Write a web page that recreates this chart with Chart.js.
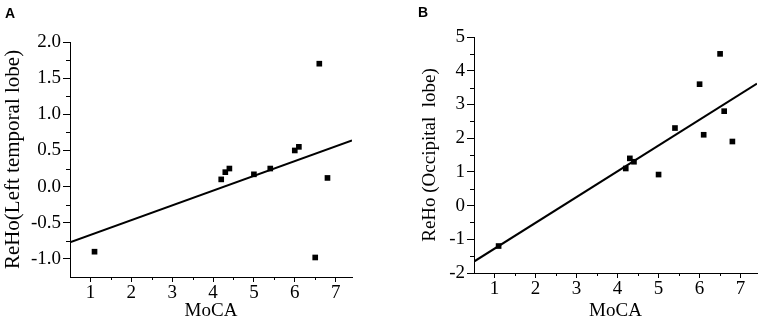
<!DOCTYPE html>
<html lang="en">
  <head>
    <meta charset="utf-8" />
    <title>ReHo vs MoCA</title>
    <style>
      * {
        margin: 0;
        padding: 0;
      }
      body {
        width: 765px;
        height: 326px;
        background: #fff;
        position: relative;
        overflow: hidden;
      }
      .panel {
        position: absolute;
        top: 0;
      }
      .tag {
        position: absolute;
        font: bold 14px 'Liberation Sans', Arial, sans-serif;
        line-height: 14px;
        color: #000;
      }
    </style>
  </head>
  <body>
    <div class="panel" style="left: 0"><canvas id="chartA" width="385" height="326"></canvas></div>
    <div class="panel" style="left: 385px"><canvas id="chartB" width="380" height="326"></canvas></div>
    <div class="tag" style="left: 5px; top: 6px">A</div>
    <div class="tag" style="left: 418px; top: 5px">B</div>

    <script src="https://cdn.jsdelivr.net/npm/chart.js"></script>
    <script>
      // data (same subjects in both panels)
      const moca = [1.1, 4.2, 4.3, 4.4, 5.0, 5.4, 6.0, 6.1, 6.5, 6.6, 6.8];
      const rehoTemporal = [-0.9, 0.1, 0.2, 0.25, 0.17, 0.25, 0.5, 0.55, -0.98, 1.7, 0.12];
      const rehoOccipital = [-1.2, 1.1, 1.4, 1.3, 0.92, 2.3, 3.6, 2.1, 4.5, 2.8, 1.9];

      // fitted lines, read at the ends of the x axis
      const fitX = [0.5, 7.4];
      const fitTemporal = [-0.77, 0.64];
      const fitOccipital = [-1.66, 3.62];

      // ticks
      const xTicks = [1, 2, 3, 4, 5, 6, 7];
      const xMinor = [1.5, 2.5, 3.5, 4.5, 5.5, 6.5];
      const yTicksA = [-1.0, -0.5, 0.0, 0.5, 1.0, 1.5, 2.0];
      const yMinorA = [-0.75, -0.25, 0.25, 0.75, 1.25, 1.75];
      const yTicksB = [-2, -1, 0, 1, 2, 3, 4, 5];
      const yMinorB = [-1.5, -0.5, 0.5, 1.5, 2.5, 3.5, 4.5];

      const serif = "'Liberation Serif', 'Times New Roman', serif";
      Chart.defaults.color = '#000';

      // small ticks between the labelled ones
      const minorTicks = {
        id: 'minorTicks',
        afterDraw(chart, args, opts) {
          const ctx = chart.ctx;
          const { x, y } = chart.scales;
          ctx.save();
          ctx.strokeStyle = '#000';
          ctx.lineWidth = 1;
          ctx.beginPath();
          (opts.x || []).forEach((v) => {
            const px = Math.round(x.getPixelForValue(v)) + 0.5;
            ctx.moveTo(px, x.top);
            ctx.lineTo(px, x.top + 3);
          });
          (opts.y || []).forEach((v) => {
            const py = Math.round(y.getPixelForValue(v)) + 0.5;
            ctx.moveTo(y.right, py);
            ctx.lineTo(y.right - 4, py);
          });
          ctx.stroke();
          ctx.restore();
        },
      };

      const pairs = (xs, ys) => xs.map((v, i) => ({ x: v, y: ys[i] }));

      function makeChart(id, o) {
        return new Chart(document.getElementById(id), {
          type: 'scatter',
          data: {
            datasets: [
              {
                data: pairs(moca, o.values),
                pointStyle: 'rect',
                pointRadius: 4,
                backgroundColor: '#000',
                borderColor: '#000',
                borderWidth: 0,
              },
              {
                type: 'line',
                data: pairs(fitX, o.fit),
                borderColor: '#000',
                borderWidth: 2,
                pointRadius: 0,
                fill: false,
              },
            ],
          },
          options: {
            responsive: false,
            animation: false,
            events: [],
            layout: { padding: o.padding },
            plugins: {
              legend: { display: false },
              tooltip: { enabled: false },
              minorTicks: { x: xMinor, y: o.minor },
            },
            scales: {
              x: {
                type: 'linear',
                min: 0.5,
                max: 7.4,
                afterBuildTicks: (s) => {
                  s.ticks = xTicks.map((v) => ({ value: v }));
                },
                afterFit: (s) => {
                  s.height = o.xHeight;
                },
                border: { display: true, color: '#000', width: 1 },
                grid: { drawOnChartArea: false, drawTicks: true, tickLength: 5, tickColor: '#000' },
                ticks: { font: { family: serif, size: 19 }, padding: 0, maxRotation: 0 },
                title: {
                  display: true,
                  text: 'MoCA',
                  font: { family: serif, size: 19 },
                  padding: { top: 0, bottom: 4 },
                },
              },
              y: {
                min: o.yMin,
                max: o.yMax,
                afterBuildTicks: (s) => {
                  s.ticks = o.ticks.map((v) => ({ value: v }));
                },
                afterFit: (s) => {
                  s.width = o.yWidth;
                },
                border: { display: true, color: '#000', width: 1 },
                grid: { drawOnChartArea: false, drawTicks: true, tickLength: 7, tickColor: '#000' },
                ticks: { font: { family: serif, size: 19 }, padding: 2, callback: o.fmt },
                title: {
                  display: true,
                  text: o.yTitle,
                  font: { family: serif, size: o.yTitleSize },
                  padding: { top: o.yTitlePad, bottom: 0 },
                },
              },
            },
          },
          plugins: [minorTicks],
        });
      }

      makeChart('chartA', {
        values: rehoTemporal,
        fit: fitTemporal,
        ticks: yTicksA,
        minor: yMinorA,
        yMin: -1.25,
        yMax: 2.0,
        fmt: (v) => v.toFixed(1),
        yTitle: 'ReHo(Left temporal lobe)',
        yTitleSize: 21,
        yTitlePad: 1,
        yWidth: 70,
        xHeight: 49,
        padding: { left: 0, top: 42, right: 33, bottom: 0 },
      });

      makeChart('chartB', {
        values: rehoOccipital,
        fit: fitOccipital,
        ticks: yTicksB,
        minor: yMinorB,
        yMin: -2,
        yMax: 5,
        fmt: (v) => String(v),
        yTitle: 'ReHo (Occipital  lobe)',
        yTitleSize: 19,
        yTitlePad: 34,
        yWidth: 89,
        xHeight: 53,
        padding: { left: 0, top: 37, right: 8, bottom: 0 },
      });
    </script>
  </body>
</html>
